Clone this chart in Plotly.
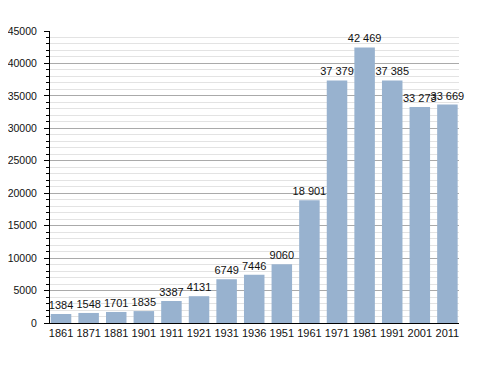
import plotly.graph_objects as go

years = ["1861", "1871", "1881", "1901", "1911", "1921", "1931", "1936",
         "1951", "1961", "1971", "1981", "1991", "2001", "2011"]
population = [1384, 1548, 1701, 1835, 3387, 4131, 6749, 7446,
              9060, 18901, 37379, 42469, 37385, 33273, 33669]

def fmt(v):
    s = str(v)
    if v >= 10000:
        s = s[:-3] + " " + s[-3:]
    return s

labels = [fmt(v) for v in population]

FONT = "Liberation Sans, Arial"

fig = go.Figure(go.Bar(
    x=years, y=population, text=labels, textposition="outside",
    constraintext="none", cliponaxis=False,
    marker=dict(color="#98b2cf", line=dict(width=0)),
    textfont=dict(family=FONT, size=11, color="#111111"),
    hoverinfo="skip",
))

# page body has an 8px margin, so the figure is 8px smaller and shifted
fig.update_layout(
    width=480, height=365,
    margin=dict(l=42, r=29, t=23, b=50, autoexpand=False),
    plot_bgcolor="white", paper_bgcolor="white",
    bargap=0.257,
    showlegend=False,
    font=dict(family=FONT, size=11, color="#111111"),
)

fig.update_xaxes(
    type="category", range=[-0.4, 14.42], automargin=False,
    showline=True, linecolor="black", linewidth=1,
    ticks="", showgrid=False, tickfont=dict(size=11), tickangle=0,
    ticklabelstandoff=0,
)

fig.update_yaxes(
    range=[0, 45000], tick0=0, dtick=5000, tickformat="d", automargin=False,
    showline=True, linecolor="black", linewidth=1,
    ticks="outside", ticklen=5, tickcolor="black", tickwidth=1,
    showgrid=True, gridcolor="#aaaaaa", gridwidth=1,
    zeroline=False, tickfont=dict(size=10.5),
    ticklabelstandoff=5,
    minor=dict(dtick=1000, tick0=0, ticks="outside", ticklen=3,
               tickcolor="black", showgrid=True, gridcolor="#e3e3e3",
               gridwidth=1),
)

fig.write_html("out.html")
